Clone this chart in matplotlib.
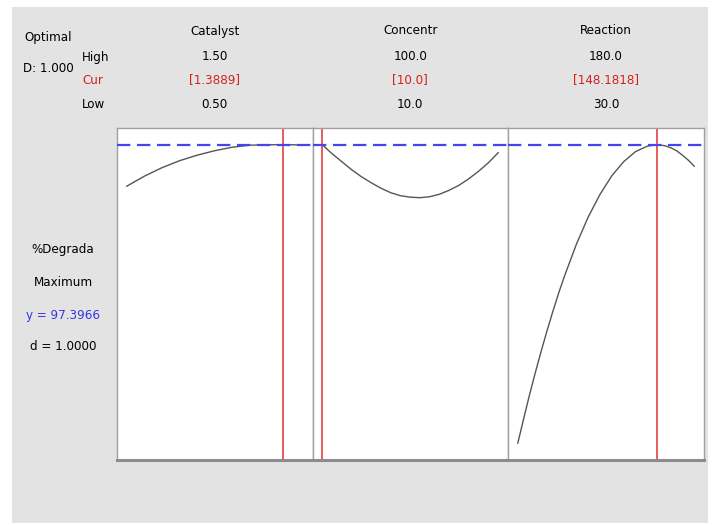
import numpy as np
import matplotlib
matplotlib.use("Agg")
import matplotlib.pyplot as plt

plt.rcParams['font.family'] = ['DejaVu Sans']
plt.rcParams['font.stretch'] = 'condensed'

# factor settings
factors = ["Catalyst", "Concentr", "Reaction"]
high = [1.50, 100.0, 180.0]
low = [0.50, 10.0, 30.0]
cur = [1.3889, 10.0, 148.1818]
high_lbl = ["1.50", "100.0", "180.0"]
cur_lbl = ["[1.3889]", "[10.0]", "[148.1818]"]
low_lbl = ["0.50", "10.0", "30.0"]

# predicted %Degrada along each factor
cat_x = [0.5, 0.6, 0.7, 0.8, 0.9, 1.0, 1.1, 1.2, 1.3, 1.3889, 1.45, 1.5]
cat_y = [89.1, 91.1, 92.8, 94.2, 95.3, 96.2, 96.9, 97.3, 97.38, 97.40, 97.38, 97.33]
con_x = [10, 15, 20, 25, 30, 35, 40, 45, 50, 55, 60, 65, 70, 75, 80, 85, 90, 95, 100]
con_y = [97.4, 95.6, 94.0, 92.4, 91.0, 89.8, 88.7, 87.8, 87.2, 86.9, 86.8, 87.0,
         87.5, 88.3, 89.3, 90.6, 92.1, 93.8, 95.8]
rea_x = [30, 35, 40, 45, 50, 55, 60, 65, 70, 80, 90, 100, 110, 120, 130, 140,
         148.18, 155, 160, 165, 170, 175, 180]
rea_y = [37.7, 42.6, 47.4, 51.9, 56.2, 60.3, 64.2, 67.9, 71.3, 77.6, 83.0, 87.5,
         91.2, 94.0, 96.0, 97.1, 97.4, 97.2, 96.8, 96.2, 95.3, 94.3, 93.1]
curves = [(cat_x, cat_y), (con_x, con_y), (rea_x, rea_y)]

y_opt = 97.3966
d_val = 1.0
ylims = (34.33, 100.74)

W, H = 713, 525
fig = plt.figure(figsize=(W / 100, H / 100), dpi=100)
fig.patch.set_facecolor("white")

def fx(x):
    return x / W

def fy(y):
    return 1 - y / H

# grey panel behind everything
bg = fig.add_axes([fx(12), fy(523), fx(708) - fx(12), fy(7) - fy(523)], zorder=-5)
bg.set_facecolor("#e3e3e3")
bg.set_xticks([])
bg.set_yticks([])
for s in bg.spines.values():
    s.set_visible(False)

edges = [117, 312.5, 508, 704]
top, bot = 128, 460
fs = 9.5
for i in range(3):
    ax = fig.add_axes([fx(edges[i]), fy(bot), fx(edges[i + 1]) - fx(edges[i]), fy(top) - fy(bot)])
    ax.set_facecolor("white")
    r = high[i] - low[i]
    ax.set_xlim(low[i] - r / 18, high[i] + r / 18)
    ax.set_ylim(*ylims)
    xs, ys = curves[i]
    ax.plot(xs, ys, color="#555555", lw=1.0)
    ax.axvline(cur[i], color="#e03030", lw=1.1)
    ax.axhline(y_opt, color="#4545f0", lw=1.6, dashes=(6, 3), zorder=3)
    ax.set_xticks([])
    ax.set_yticks([])
    for s in ax.spines.values():
        s.set_color("#a0a0a0")
        s.set_linewidth(1.0)
    ax.spines["bottom"].set_color("#8c8c8c")
    ax.spines["bottom"].set_linewidth(2.2)
    cx = (edges[i] + edges[i + 1]) / 2
    fig.text(fx(cx), fy(31), factors[i], ha="center", va="center", fontsize=fs)
    fig.text(fx(cx), fy(57), high_lbl[i], ha="center", va="center", fontsize=fs)
    fig.text(fx(cx), fy(80), cur_lbl[i], ha="center", va="center", fontsize=fs, color="#d42020")
    fig.text(fx(cx), fy(104), low_lbl[i], ha="center", va="center", fontsize=fs)

fig.text(fx(48), fy(38), "Optimal", ha="center", va="center", fontsize=fs)
fig.text(fx(48), fy(69), "D: %.3f" % d_val, ha="center", va="center", fontsize=fs)
fig.text(fx(82), fy(57), "High", ha="left", va="center", fontsize=fs)
fig.text(fx(82), fy(80), "Cur", ha="left", va="center", fontsize=fs, color="#d42020")
fig.text(fx(82), fy(104), "Low", ha="left", va="center", fontsize=fs)

fig.text(fx(63), fy(250), "%Degrada", ha="center", va="center", fontsize=fs)
fig.text(fx(63), fy(282), "Maximum", ha="center", va="center", fontsize=fs)
fig.text(fx(63), fy(315), "y = %.4f" % y_opt, ha="center", va="center", fontsize=fs, color="#3535e0")
fig.text(fx(63), fy(347), "d = %.4f" % d_val, ha="center", va="center", fontsize=fs)

fig.savefig("out.png", dpi=100, facecolor="white")
